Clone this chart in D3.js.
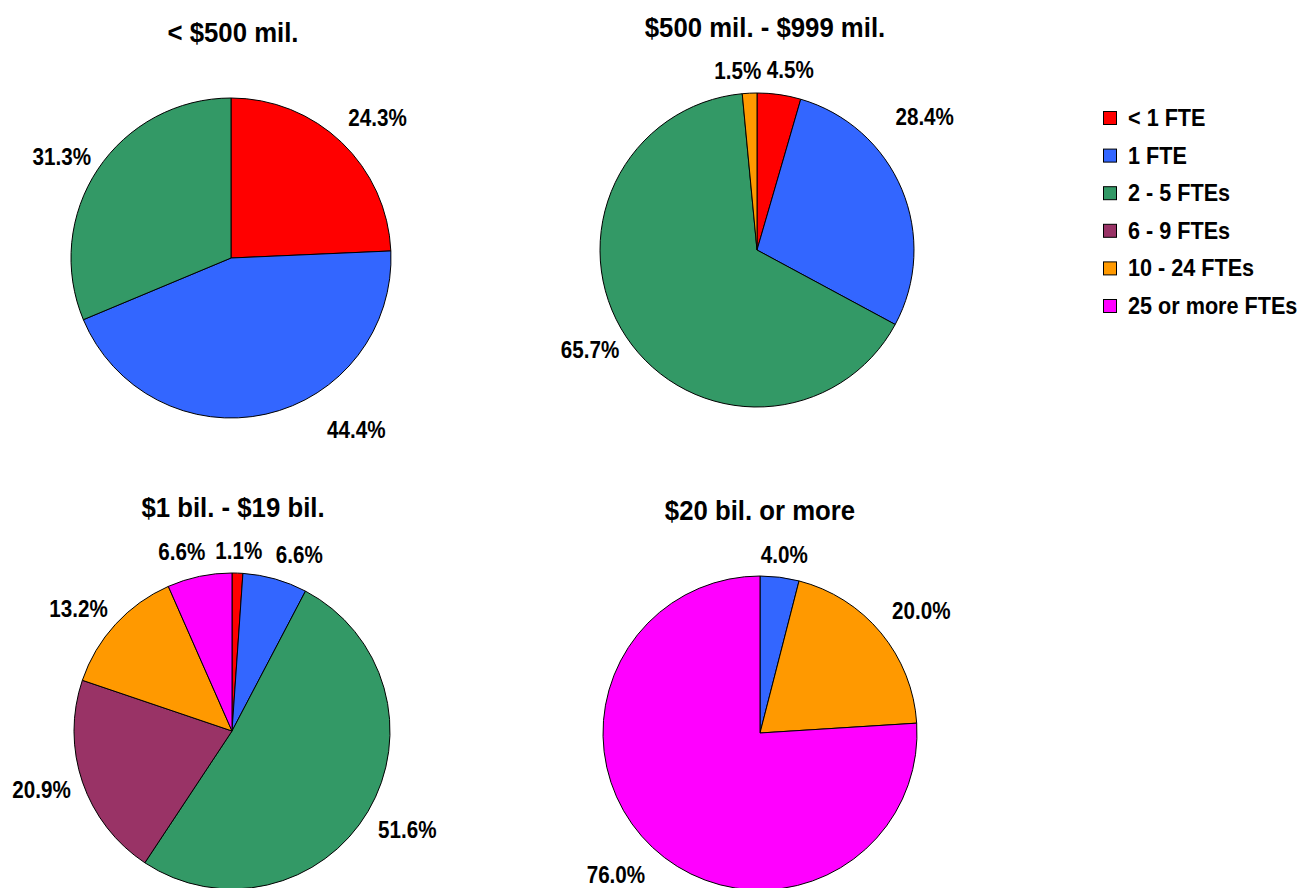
<!DOCTYPE html>
<html><head><meta charset="utf-8">
<script src="https://cdn.jsdelivr.net/npm/d3@7"></script>
<style>
html,body{margin:0;padding:0;background:#fff;}
text{font-family:"Liberation Sans Narrow","Arial Narrow","Liberation Sans",Arial,sans-serif;font-weight:bold;fill:#000;}
</style></head>
<body><svg id="c" width="1302" height="888"></svg>
<script>
const categories = ["< 1 FTE","1 FTE","2 - 5 FTEs","6 - 9 FTEs","10 - 24 FTEs","25 or more FTEs"];
const chartTitles = ["< $500 mil.","$500 mil. - $999 mil.","$1 bil. - $19 bil.","$20 bil. or more"];
const under500mil = [24.3, 44.4, 31.3, 0, 0, 0];
const mil500to999 = [4.5, 28.4, 65.7, 0, 1.5, 0];
const bil1to19 = [1.1, 6.6, 51.6, 20.9, 13.2, 6.6];
const bil20plus = [0, 4.0, 0, 0, 20.0, 76.0];
const seriesValues = [under500mil, mil500to999, bil1to19, bil20plus];
const colors = ["#FF0000","#3366FF","#339966","#993366","#FF9900","#FF00FF"];

// layout
const pies = [
  {cx:231, cy:258, r:160, tx:233, ty:32},
  {cx:757, cy:250, r:157, tx:765, ty:27},
  {cx:232, cy:731, r:158, tx:233, ty:507},
  {cx:760, cy:733, r:157, tx:760, ty:510}
];
// label nudges (pixels) where the chart moved a label off its slice's middle angle
const labelShift = {"0-0":[6,-8], "0-1":[81,-7], "1-1":[-17,-64], "1-4":[-10,0], "1-0":[6,-2],
                    "2-5":[-10,-2], "2-1":[14,-2], "2-2":[2,6], "2-4":[-5,0],
                    "3-4":[7,-8], "3-5":[-7,10]};
const labelScale = 0.86, titleScale = 0.92, legendScale = 0.94;

const svg = d3.select("#c");
const color = d3.scaleOrdinal().domain(categories).range(colors);
const pie = d3.pie().sort(null).value(d=>d.v);

function sText(parent, x, y, str, size, sx, anchor){
  const g = parent.append("g").attr("transform",`translate(${x},${y}) scale(${sx},1)`);
  return g.append("text").attr("font-size",size).attr("text-anchor",anchor||"middle")
    .attr("dy","0.35em").text(str);
}

seriesValues.forEach((vals, i) => {
  const L = pies[i];
  const g = svg.append("g").attr("transform",`translate(${L.cx},${L.cy})`);
  const data = vals.map((v,k)=>({v, c:categories[k], k}));
  const arcs = pie(data);
  const arc = d3.arc().innerRadius(0).outerRadius(L.r);
  g.selectAll("path").data(arcs.filter(a=>a.data.v>0)).join("path")
    .attr("d", arc).attr("fill", d=>color(d.data.c))
    .attr("stroke","#000").attr("stroke-width",1).attr("stroke-linejoin","round");
  const fs = 24, h = 18;
  arcs.filter(a=>a.data.v>0).forEach(a=>{
    const mid = (a.startAngle+a.endAngle)/2;
    const s = Math.sin(mid), c = Math.cos(mid);
    const str = a.data.v.toFixed(1)+"%";
    const probe = g.append("text").attr("font-size",fs).text(str);
    const w = probe.node().getComputedTextLength()*labelScale;
    probe.remove();
    let x = s*(L.r+14) + s*w/2;
    let y = -c*(L.r+14) - c*h/2;
    const sh = labelShift[i+"-"+a.data.k];
    if (sh){ x += sh[0]; y += sh[1]; }
    sText(g, x, y, str, fs, labelScale);
  });
  sText(svg, L.tx, L.ty, chartTitles[i], 28, titleScale);
});

const lg = svg.append("g").attr("transform","translate(1103,118)");
categories.forEach((c,k)=>{
  const row = lg.append("g").attr("transform",`translate(0,${k*37.6})`);
  row.append("rect").attr("x",0.5).attr("y",-6.5).attr("width",13).attr("height",13)
    .attr("fill",colors[k]).attr("stroke","#000").attr("stroke-width",1);
  sText(row, 25, 0, c, 23, legendScale, "start");
});
</script></body></html>
